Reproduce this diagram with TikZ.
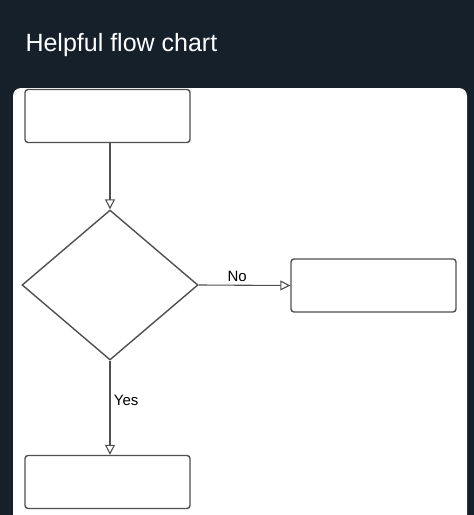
\documentclass[tikz,border=0pt]{standalone}
\usepackage{fontspec}
\setmainfont{Liberation Sans}
\usetikzlibrary{shapes.geometric, arrows.meta}
\definecolor{bgdark}{HTML}{15202B}
\definecolor{linegray}{HTML}{505050}
\tikzset{
  box/.style={draw=linegray, line width=1.4pt, rounded corners=3pt, minimum width=165pt, minimum height=53pt},
  decision/.style={draw=linegray, line width=1.4pt, diamond, minimum width=176pt, minimum height=150pt, inner sep=0pt},
  flow/.style={draw=linegray, line width=1.1pt, -{Triangle[open, length=10pt, width=10pt]}},
  lbl/.style={font=\fontsize{15}{17}\selectfont}
}
\begin{document}
\begin{tikzpicture}[x=1pt, y=-1pt]
  \useasboundingbox (0,0) rectangle (474,515);
  \fill[bgdark] (0,0) rectangle (474,515);
  \fill[white, rounded corners=8pt] (13,88) rectangle (467,530);
  \node[anchor=west, text=white, font=\fontsize{25}{29}\selectfont] (title) at (22,45) {Helpful flow chart};

  \node[box] (start) at (107.5,116) {};
  \node[decision] (check) at (110,285) {};
  \node[box] (nobox) at (373.5,285.5) {};
  \node[box] (yesbox) at (107.5,482) {};

  \draw[flow] (start.south -| check.north) -- (check.north);
  \draw[flow] (check.east) -- node[lbl, above, pos=0.42] {No} (nobox.west);
  \draw[flow] (check.south) -- node[lbl, right, pos=0.42] {Yes} (yesbox.north -| check.south);
\end{tikzpicture}
\end{document}
